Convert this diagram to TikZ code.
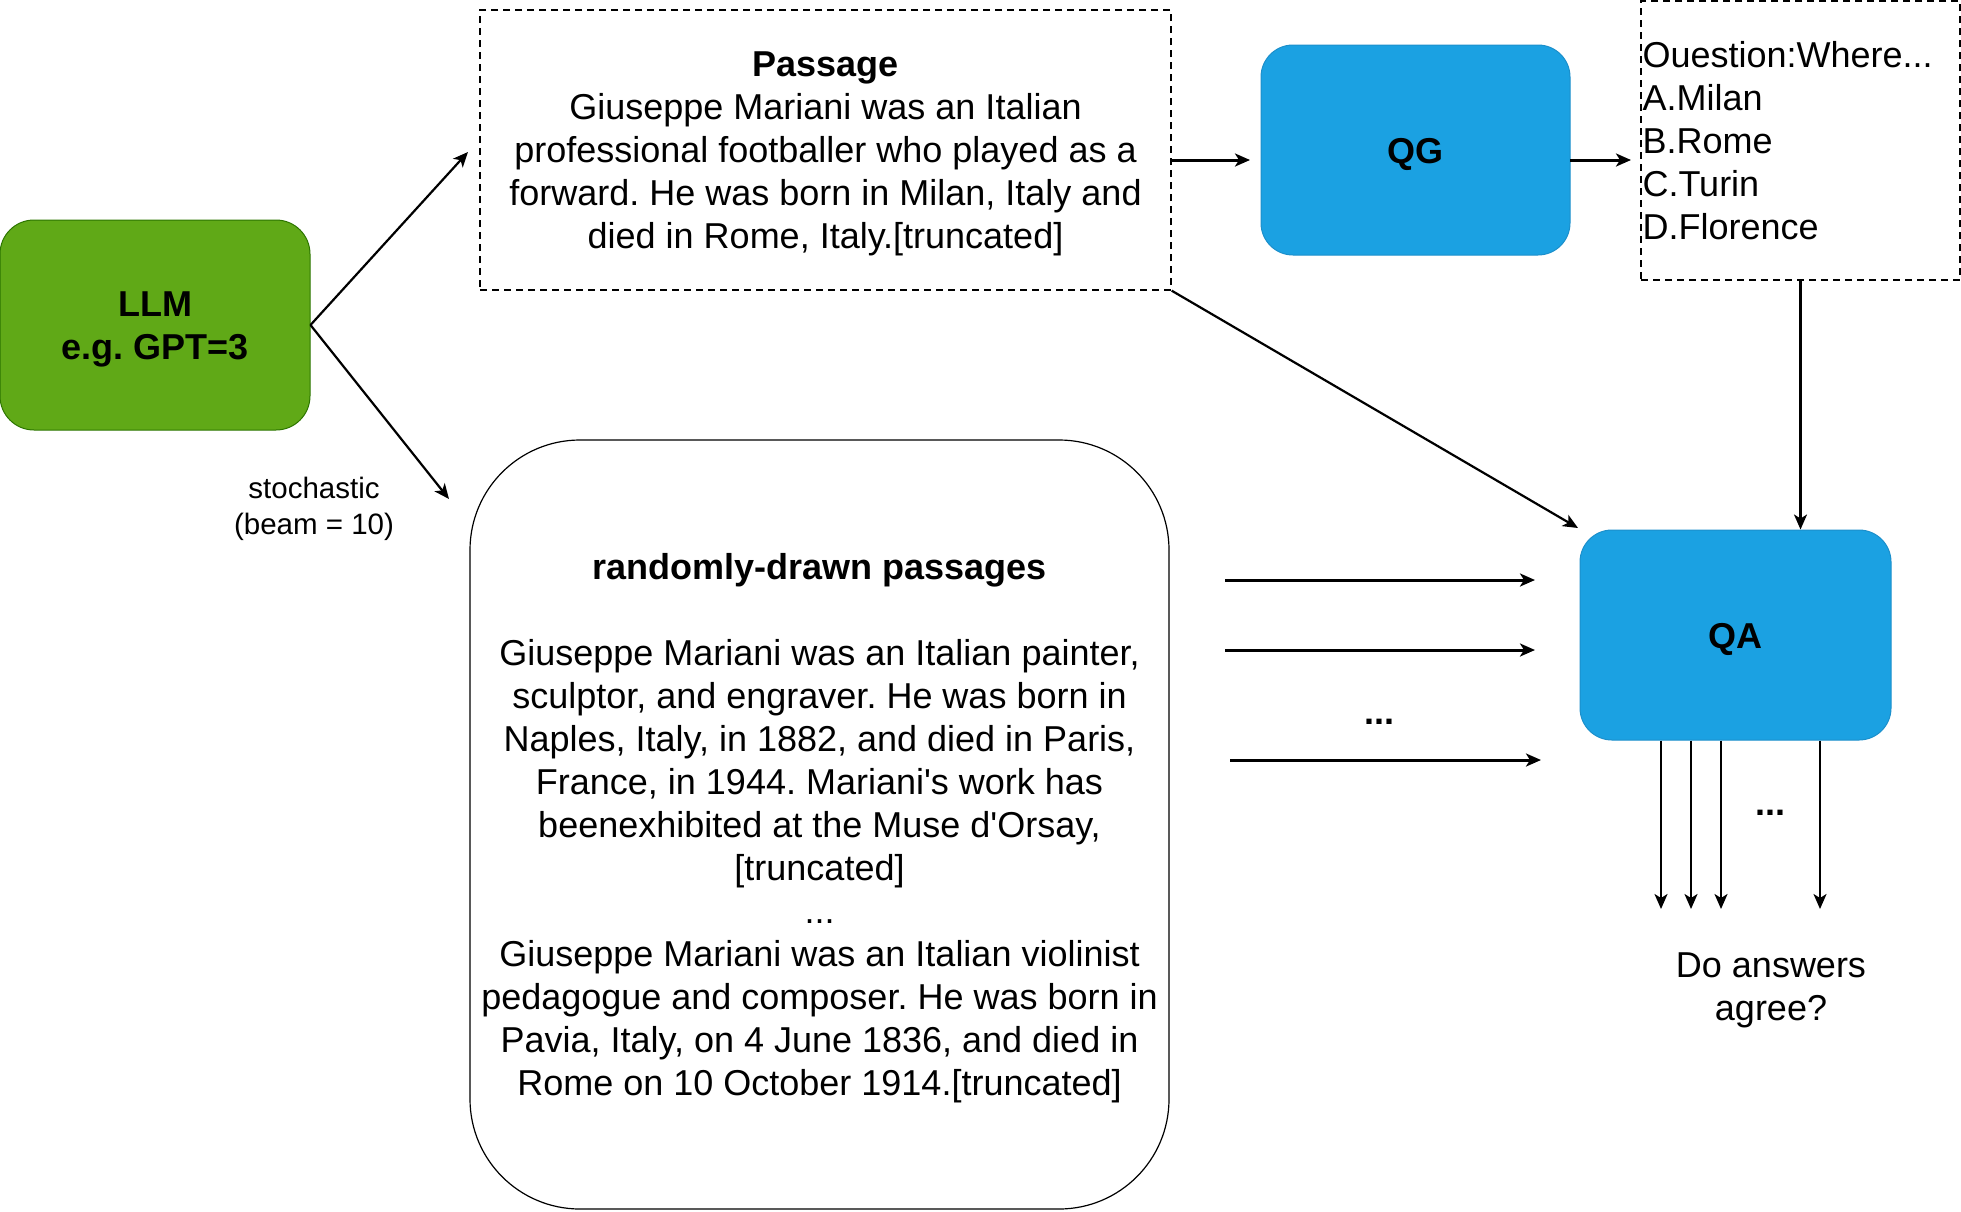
\documentclass[tikz,border=0pt]{standalone}
\usepackage{fontspec}
\setmainfont{Liberation Sans}
\newfontfamily\lsans{Liberation Sans}
\usetikzlibrary{arrows.meta}
\definecolor{gfill}{HTML}{60A917}
\definecolor{gline}{HTML}{2D7600}
\definecolor{bfill}{HTML}{1BA1E2}
\definecolor{bline}{HTML}{1B8FCB}
\frenchspacing
\begin{document}
\frenchspacing
\begin{tikzpicture}[x=1pt,y=-1pt,
  txt/.style={font=\lsans\frenchspacing\fontsize{36}{43}\selectfont, align=center, inner sep=0pt},
  boldtxt/.style={txt, font=\lsans\frenchspacing\fontsize{36}{43}\selectfont\bfseries},
  greenbox/.style={fill=gfill, draw=gline, line width=1pt, rounded corners=34pt, inner sep=0pt},
  bluebox/.style={fill=bfill, draw=bline, line width=1pt, rounded corners=32pt, inner sep=0pt},
  dashbox/.style={draw=black, dashed, dash pattern=on 7pt off 5pt, line width=1.3pt, inner sep=0pt},
  roundbox/.style={draw=black, line width=1.2pt, rounded corners=110pt, inner sep=0pt},
  arr/.style={draw=black, line width=2.2pt, -{Stealth[length=15pt,width=13pt,inset=4pt]}},
  arrthick/.style={arr, line width=3pt}
]
\useasboundingbox (0,0) rectangle (1961,1211);

% boxes
\node[greenbox, minimum width=310, minimum height=210] (llm) at (155,325) {};
\node[dashbox, minimum width=691, minimum height=280] (passage) at (825.5,150) {};
\node[bluebox, minimum width=309, minimum height=210] (qg) at (1415.5,150) {};
\node[dashbox, minimum width=319, minimum height=279] (question) at (1800.5,140.5) {};
\node[bluebox, minimum width=311, minimum height=210] (qa) at (1735.5,635) {};
\node[roundbox, minimum width=699, minimum height=769] (random) at (819.5,824.5) {};

% box texts
\node[boldtxt] (llmtext) at ([yshift=-4pt]llm.center) {LLM\\e.g. GPT=3};
\node[txt] (passagetext) at ([yshift=-4pt]passage.center)
  {\textbf{Passage}\\Giuseppe Mariani was an Italian\\professional footballer who played as a\\forward. He was born in Milan, Italy and\\died in Rome, Italy.[truncated]};
\node[boldtxt] (qgtext) at ([yshift=-4pt]qg.center) {QG};
\node[txt, align=left, anchor=west] (questiontext) at ([xshift=2pt]question.west)
  {Ouestion:Where...\\A.Milan\\B.Rome\\C.Turin\\D.Florence};
\node[boldtxt] (qatext) at ([yshift=-4pt]qa.center) {QA};
\node[txt] (randomtext) at ([yshift=-4pt]random.center)
  {\textbf{randomly-drawn passages}\\[43pt]
   Giuseppe Mariani was an Italian painter,\\
   sculptor, and engraver. He was born in\\
   Naples, Italy, in 1882, and died in Paris,\\
   France, in 1944. Mariani's work has\\
   beenexhibited at the Muse d'Orsay,\\
   {[truncated]}\\
   ...\\
   Giuseppe Mariani was an Italian violinist\\
   pedagogue and composer. He was born in\\
   Pavia, Italy, on 4 June 1836, and died in\\
   Rome on 10 October 1914.[truncated]};

\node[txt, font=\lsans\fontsize{29.5}{36}\selectfont] (stoch) at (314,509) {stochastic\\(beam = 10)};

\node[boldtxt] (dotsa) at (1379,722) {...};
\node[boldtxt] (dotsb) at (1770,813) {...};

\node[txt] (agree) at (1771,990) {Do answers\\agree?};

% coordinates
\coordinate (tp1) at (468,152);
\coordinate (tp2) at (449,499);
\coordinate (qgin) at (1250,160);
\coordinate (qgout) at (1570,160);
\coordinate (qin) at (1631,160);
\coordinate (qatl) at (1578,528);
\coordinate (h1s) at (1225,580);
\coordinate (h1e) at (1535,580);
\coordinate (h2s) at (1225,650);
\coordinate (h2e) at (1535,650);
\coordinate (h3s) at (1230,760);
\coordinate (h3e) at (1541,760);
\coordinate (d1) at (1661,909);
\coordinate (d2) at (1691,909);
\coordinate (d3) at (1721,909);
\coordinate (d4) at (1820,909);

\draw[arr] (llm.east) -- (tp1);
\draw[arr] (llm.east) -- (tp2);
\draw[arrthick] (passage.east |- qgin) -- (qgin);
\draw[arrthick] (qgout) -- (qin);
\draw[arr] (question.south) -- (question.south |- qa.north);
\draw[arr] (passage.south east) -- (qatl);
\draw[arrthick] (h1s) -- (h1e);
\draw[arrthick] (h2s) -- (h2e);
\draw[arrthick] (h3s) -- (h3e);
\draw[arr] (qa.south -| d1) -- (d1);
\draw[arr] (qa.south -| d2) -- (d2);
\draw[arr] (qa.south -| d3) -- (d3);
\draw[arr] (qa.south -| d4) -- (d4);
\end{tikzpicture}
\end{document}
